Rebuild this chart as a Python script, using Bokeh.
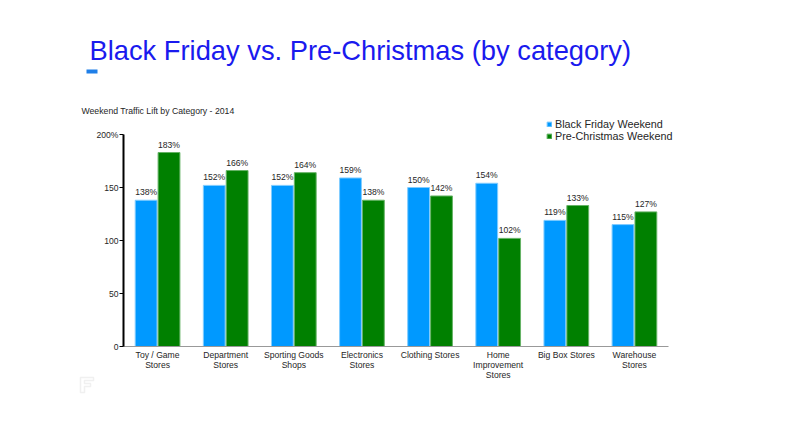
from bokeh.plotting import figure
from bokeh.models import Label, Legend, LegendItem, BoxAnnotation, PolyAnnotation, FixedTicker, ColumnDataSource
from bokeh.core.properties import value
from bokeh.embed import file_html
from bokeh.resources import INLINE

categories = ["Toy / Game\nStores", "Department\nStores", "Sporting Goods\nShops", "Electronics\nStores",
              "Clothing Stores", "Home\nImprovement\nStores", "Big Box Stores", "Warehouse\nStores"]
black_friday = [138, 152, 152, 159, 150, 154, 119, 115]
pre_christmas = [183, 166, 164, 138, 142, 102, 133, 127]
y_ticks = [0, 50, 100, 150, 200]
y_tick_labels = {200: "200%", 150: "150", 100: "100", 50: "50", 0: "0"}
series_names = ["Black Friday Weekend", "Pre-Christmas Weekend"]
title_text = "Black Friday vs. Pre-Christmas (by category)"
subtitle_text = "Weekend Traffic Lift by Category - 2014"

FONT = "Liberation Sans"
BLUE = "#0099ff"
GREEN = "#008000"
TXT = "#262626"

W, H = 783, 415
AX_L, AX_R, AX_T, AX_B = 123, 668, 134, 346  # axis box in canvas pixels
n = len(categories)
YMAX = 200
sx = (AX_R - AX_L) / n
sy = (AX_B - AX_T) / YMAX

p = figure(width=W, height=H, output_backend="svg", toolbar_location=None,
           x_range=(-AX_L / sx, n + (W - AX_R) / sx),
           y_range=(-(H - AX_B) / sy, YMAX + AX_T / sy),
           min_border=0, min_border_left=0, min_border_right=0, min_border_top=0, min_border_bottom=0)
p.outline_line_color = None
p.grid.visible = False

xs = [i + 0.5 for i in range(n)]
off = 0.168
bw = 0.32
src_b = ColumnDataSource(dict(x=[x - off for x in xs], top=black_friday,
                              lab=[f"{v}%" for v in black_friday]))
src_g = ColumnDataSource(dict(x=[x + off for x in xs], top=pre_christmas,
                              lab=[f"{v}%" for v in pre_christmas]))
rb = p.vbar(x="x", top="top", width=bw, source=src_b, fill_color=BLUE, line_color="#80ccff", line_width=1)
rg = p.vbar(x="x", top="top", width=bw, source=src_g, fill_color=GREEN, line_color="#66b366", line_width=1)

for src in (src_b, src_g):
    p.text(x="x", y="top", text="lab", source=src, text_align="center", text_baseline="bottom",
           y_offset=-3, text_font=value(FONT), text_font_size="8.6px", text_color=TXT)

# axes fixed at the data origin
p.yaxis.fixed_location = 0
p.yaxis.bounds = (0, YMAX)
p.yaxis.ticker = FixedTicker(ticks=y_ticks)
p.yaxis.major_label_overrides = y_tick_labels
p.yaxis.axis_line_color = "black"
p.yaxis.axis_line_width = 2
p.yaxis.major_tick_out = 4
p.yaxis.major_tick_in = 0
p.yaxis.major_tick_line_color = "black"
p.yaxis.minor_tick_line_color = None
p.yaxis.major_label_text_font = FONT
p.yaxis.major_label_text_font_size = "8.6px"
p.yaxis.major_label_text_color = TXT
p.yaxis.major_label_standoff = 1

p.xaxis.fixed_location = 0
p.xaxis.bounds = (0, n)
p.xaxis.ticker = FixedTicker(ticks=xs)
p.xaxis.major_label_overrides = {x: c for x, c in zip(xs, categories)}
p.xaxis.axis_line_color = "#999999"
p.xaxis.axis_line_width = 1
p.xaxis.major_tick_out = 0
p.xaxis.major_tick_in = 0
p.xaxis.major_tick_line_color = None
p.xaxis.minor_tick_line_color = None
p.xaxis.major_label_text_font = FONT
p.xaxis.major_label_text_font_size = "8.6px"
p.xaxis.major_label_text_color = TXT
p.xaxis.major_label_text_line_height = 1.0
p.xaxis.major_label_standoff = 3

# header (screen units: frame = whole canvas, y measured from bottom)
p.add_layout(Label(x=89, y=H - 50, x_units="screen", y_units="screen", text=title_text,
                   text_font=FONT, text_font_size="27.3px", text_color="#1a1aee", text_baseline="alphabetic"))
p.add_layout(BoxAnnotation(left=86, right=97, top=H - 69, bottom=H - 73, left_units="screen", right_units="screen",
                           top_units="screen", bottom_units="screen",
                           fill_color="#1f7fe8", fill_alpha=1, line_color=None))
p.add_layout(Label(x=81, y=H - 110, x_units="screen", y_units="screen", text=subtitle_text,
                   text_font=FONT, text_font_size="8.7px", text_color=TXT, text_baseline="alphabetic"))

# logo mark
p.add_layout(PolyAnnotation(xs=[80, 93, 93, 84, 84, 90, 90, 84, 84, 80],
                            ys=[H - v for v in [377, 377, 380, 380, 383, 383, 386, 386, 392, 392]],
                            xs_units="screen", ys_units="screen",
                            fill_alpha=0, line_color="#cccccc", line_width=1.5))

legend = Legend(items=[LegendItem(label=series_names[0], renderers=[rb]),
                       LegendItem(label=series_names[1], renderers=[rg])],
                location=(546, H - 142), orientation="vertical",
                glyph_width=6, glyph_height=6, label_text_font=FONT, label_text_font_size="10.8px",
                label_text_color=TXT, label_standoff=3, padding=0, spacing=0, margin=0,
                border_line_color=None, background_fill_alpha=0, label_height=10, label_text_baseline="middle")
p.add_layout(legend, "center")

open("out.html", "w").write(file_html(p, INLINE))
